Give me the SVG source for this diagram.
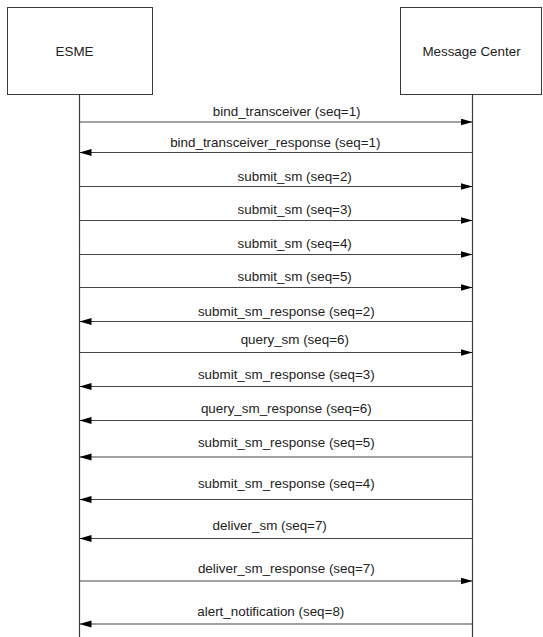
<svg xmlns="http://www.w3.org/2000/svg" width="543" height="637" viewBox="0 0 543 637">
<style>
.box{fill:#fff;stroke:#3a3a3a;stroke-width:1}
.life{stroke:#3a3a3a;stroke-width:1.2;fill:none}
.msg{stroke:#444;stroke-width:1.2;fill:none;marker-end:url(#ah)}
text{font-family:"Liberation Sans",Arial,sans-serif;font-size:13.4px;fill:#222}
.lbl{text-anchor:middle}
</style>
<defs>
<marker id="ah" markerUnits="userSpaceOnUse" markerWidth="13" markerHeight="8" refX="12" refY="3.5" orient="auto">
<path d="M0,0 L12,3.5 L0,7 z" fill="#000"/>
</marker>
</defs>
<g id="esme">
<rect class="box" x="7.5" y="7.5" width="145" height="87"/>
<text x="74.5" y="55.5" text-anchor="middle">ESME</text>
</g>
<g id="message-center">
<rect class="box" x="400.5" y="7.5" width="141" height="87"/>
<text x="471.5" y="55.5" text-anchor="middle">Message Center</text>
</g>
<g id="connectors">
<line class="life" x1="79.5" y1="94.5" x2="79.5" y2="637"/>
<line class="life" x1="472.5" y1="94.5" x2="472.5" y2="637"/>
<line class="msg" x1="79.5" y1="122" x2="472.5" y2="122"/>
<line class="msg" x1="472.5" y1="152.5" x2="79.5" y2="152.5"/>
<line class="msg" x1="79.5" y1="186.5" x2="472.5" y2="186.5"/>
<line class="msg" x1="79.5" y1="220.5" x2="472.5" y2="220.5"/>
<line class="msg" x1="79.5" y1="254.5" x2="472.5" y2="254.5"/>
<line class="msg" x1="79.5" y1="287.5" x2="472.5" y2="287.5"/>
<line class="msg" x1="472.5" y1="321.5" x2="79.5" y2="321.5"/>
<line class="msg" x1="79.5" y1="352.5" x2="472.5" y2="352.5"/>
<line class="msg" x1="472.5" y1="386.5" x2="79.5" y2="386.5"/>
<line class="msg" x1="472.5" y1="420.5" x2="79.5" y2="420.5"/>
<line class="msg" x1="472.5" y1="457" x2="79.5" y2="457"/>
<line class="msg" x1="472.5" y1="499.5" x2="79.5" y2="499.5"/>
<line class="msg" x1="472.5" y1="538.5" x2="79.5" y2="538.5"/>
<line class="msg" x1="79.5" y1="581" x2="472.5" y2="581"/>
<line class="msg" x1="472.5" y1="624" x2="79.5" y2="624"/>
<text class="lbl" x="286.7" y="115.7">bind_transceiver (seq=1)</text>
<text class="lbl" x="275.3" y="146.7">bind_transceiver_response (seq=1)</text>
<text class="lbl" x="294.7" y="180.7">submit_sm (seq=2)</text>
<text class="lbl" x="294.7" y="214.3">submit_sm (seq=3)</text>
<text class="lbl" x="294.7" y="247.7">submit_sm (seq=4)</text>
<text class="lbl" x="294.7" y="280.5">submit_sm (seq=5)</text>
<text class="lbl" x="286.3" y="315.7">submit_sm_response (seq=2)</text>
<text class="lbl" x="294.8" y="344.3">query_sm (seq=6)</text>
<text class="lbl" x="286.3" y="379.3">submit_sm_response (seq=3)</text>
<text class="lbl" x="286.3" y="412.7">query_sm_response (seq=6)</text>
<text class="lbl" x="286.3" y="446.7">submit_sm_response (seq=5)</text>
<text class="lbl" x="286.3" y="488.3">submit_sm_response (seq=4)</text>
<text class="lbl" x="269.7" y="530">deliver_sm (seq=7)</text>
<text class="lbl" x="286.3" y="572.7">deliver_sm_response (seq=7)</text>
<text class="lbl" x="270.8" y="616">alert_notification (seq=8)</text>
</g>
</svg>
